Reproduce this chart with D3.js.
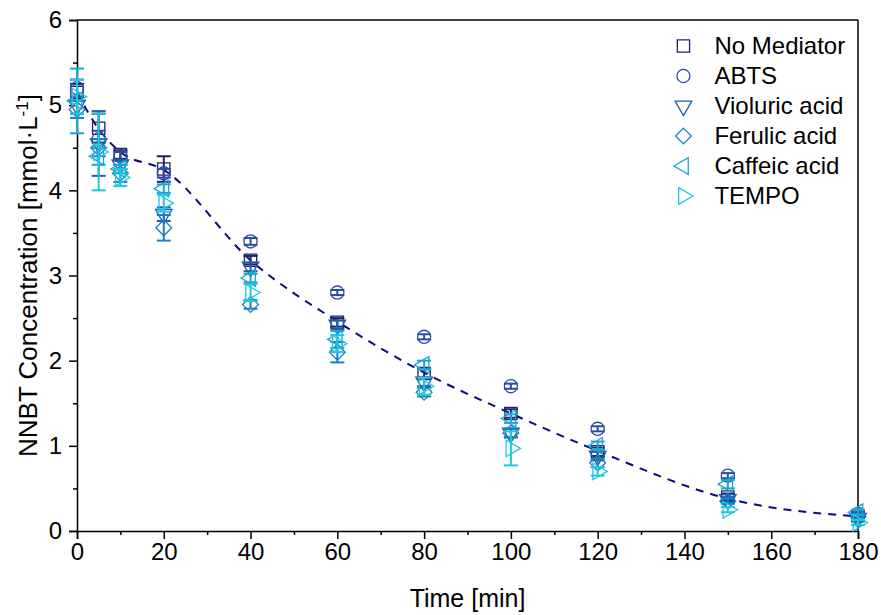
<!DOCTYPE html>
<html>
<head>
<meta charset="utf-8">
<script src="https://cdn.jsdelivr.net/npm/d3@7"></script>
<style>
  body { margin: 0; background: #fff; }
  text { font-family: "Liberation Sans", Arial, sans-serif; fill: #000; }
</style>
</head>
<body>
<div id="chart"></div>
<script>
// data
var times = [0, 5, 10, 20, 40, 60, 80, 100, 120, 150, 180]
var seriesNames = ['No Mediator', 'ABTS', 'Violuric acid', 'Ferulic acid', 'Caffeic acid', 'TEMPO']

var noMediator    = [5.15, 4.73, 4.42, 4.25, 3.18, 2.45, 1.85, 1.38, 0.93, 0.40, 0.18]
var noMediatorErr = [0.10, 0.17, 0.05, 0.15, 0.05, 0.05, 0.05, 0.05, 0.05, 0.04, 0.03]
var abts          = [5.20, 4.60, 4.40, 4.20, 3.40, 2.80, 2.28, 1.70, 1.20, 0.65, 0.20]
var abtsErr       = [0.10, 0.10, 0.05, 0.05, 0.04, 0.03, 0.03, 0.03, 0.03, 0.03, 0.03]
var violuric      = [5.00, 4.55, 4.30, 3.72, 3.10, 2.42, 1.75, 1.15, 0.88, 0.37, 0.15]
var violuricErr   = [0.10, 0.38, 0.05, 0.08, 0.05, 0.05, 0.05, 0.05, 0.05, 0.03, 0.03]
var ferulic       = [4.95, 4.50, 4.20, 3.56, 2.66, 2.10, 1.63, 1.15, 0.80, 0.35, 0.17]
var ferulicErr    = [0.10, 0.10, 0.10, 0.15, 0.05, 0.12, 0.05, 0.05, 0.05, 0.03, 0.03]
var caffeic       = [5.05, 4.40, 4.25, 4.02, 2.97, 2.25, 1.95, 1.32, 1.00, 0.55, 0.22]
var caffeicErr    = [0.38, 0.10, 0.05, 0.05, 0.05, 0.10, 0.05, 0.05, 0.05, 0.05, 0.03]
var tempo         = [5.10, 4.45, 4.15, 3.85, 2.80, 2.20, 1.70, 0.97, 0.70, 0.25, 0.10]
var tempoErr      = [0.20, 0.45, 0.10, 0.10, 0.10, 0.10, 0.10, 0.20, 0.05, 0.03, 0.03]

// fitted trend (dashed)
var fitTimes  = [0, 5, 10, 20, 40, 60, 80, 100, 120, 150, 180]
var fitValues = [5.15, 4.72, 4.45, 4.24, 3.18, 2.46, 1.86, 1.38, 0.94, 0.38, 0.17]

var xTicks = [0, 20, 40, 60, 80, 100, 120, 140, 160, 180]
var yTicks = [0, 1, 2, 3, 4, 5, 6]

var values = [noMediator, abts, violuric, ferulic, caffeic, tempo]
var errors = [noMediatorErr, abtsErr, violuricErr, ferulicErr, caffeicErr, tempoErr]

// styles
var colors = ['#20206e', '#2c4ca4', '#1f5ea9', '#1b7ebf', '#1aa6d4', '#22c6e2']
var symbols = [
  {type: d3.symbolSquare, size: 150, rot: 0},
  {type: d3.symbolCircle, size: 135, rot: 0},
  {type: d3.symbolTriangle, size: 120, rot: 180},
  {type: d3.symbolSquare, size: 125, rot: 45},
  {type: d3.symbolTriangle, size: 120, rot: -90},
  {type: d3.symbolTriangle, size: 120, rot: 90}
]

var W = 881, H = 615
var margin = {top: 20, right: 23, bottom: 84, left: 77}
var width = W - margin.left - margin.right
var height = H - margin.top - margin.bottom

var svg = d3.select('#chart').append('svg')
    .attr('width', W)
    .attr('height', H)
  .append('g')
    .attr('transform', 'translate(' + margin.left + ',' + margin.top + ')')

var x = d3.scaleLinear().domain([0, 180]).range([0, width])
var y = d3.scaleLinear().domain([0, 6]).range([height, 0])

// Axes
var xAxis = d3.axisBottom(x).tickValues(xTicks).tickSize(8).tickPadding(4).tickFormat(d3.format('d'))
var yAxis = d3.axisLeft(y).tickValues(yTicks).tickSize(8).tickPadding(7).tickFormat(d3.format('d'))

var gx = svg.append('g').attr('transform', 'translate(0,' + height + ')').call(xAxis)
var gy = svg.append('g').call(yAxis)

// minor ticks
svg.append('g').attr('transform', 'translate(0,' + height + ')')
  .call(d3.axisBottom(x).tickValues(d3.range(10, 180, 20)).tickSize(4).tickFormat(''))
  .call(function(g){ g.select('.domain').remove() })
svg.append('g')
  .call(d3.axisLeft(y).tickValues(d3.range(0.5, 6, 1)).tickSize(4).tickFormat(''))
  .call(function(g){ g.select('.domain').remove() })

svg.selectAll('.tick line').style('stroke', '#000').style('stroke-width', 1.5)
svg.selectAll('.domain').style('stroke', '#000').style('stroke-width', 1.5)
gx.selectAll('text').attr('font-size', null).style('font-size', '24px')
gy.selectAll('text').attr('font-size', null).style('font-size', '24px')
gx.attr('font-size', null).attr('font-family', null)
gy.attr('font-size', null).attr('font-family', null)

// frame top and right
svg.append('line').attr('x1', 0).attr('x2', width).attr('y1', 0).attr('y2', 0)
  .style('stroke', '#000').style('stroke-width', 1.5)
svg.append('line').attr('x1', width).attr('x2', width).attr('y1', 0).attr('y2', height)
  .style('stroke', '#000').style('stroke-width', 1.5)

// axis titles
svg.append('text')
  .attr('x', width / 2)
  .attr('y', height + 76)
  .attr('text-anchor', 'middle')
  .style('font-size', '25px')
  .text('Time [min]')

var yTitle = svg.append('text')
  .attr('transform', 'translate(' + (-40) + ',' + (height / 2) + ') rotate(-90)')
  .attr('text-anchor', 'middle')
  .style('font-size', '26px')
yTitle.append('tspan').text('NNBT Concentration [mmol\u00b7L')
yTitle.append('tspan').attr('dy', -9).style('font-size', '17px').text('-1')
yTitle.append('tspan').attr('dy', 9).text(']')

// dashed trend line
var fitData = fitTimes.map(function(t, i){ return {t: t, v: fitValues[i]} })
svg.append('path')
  .datum(fitData)
  .attr('d', d3.line()
    .x(function(d){ return x(d.t) })
    .y(function(d){ return y(d.v) })
    .curve(d3.curveMonotoneX))
  .style('fill', 'none')
  .style('stroke', '#0b0b7a')
  .style('stroke-width', 2)
  .style('stroke-dasharray', '8,7')

// series
var symbolPath = function(s){ return d3.symbol().type(s.type).size(s.size)() }

values.forEach(function(vals, si){
  var pts = times.map(function(t, i){ return {t: t, v: vals[i], e: errors[si][i]} })
  var g = svg.append('g')
    .style('stroke', colors[si])
    .style('fill', 'none')
    .style('stroke-width', 1.3)

  // error bars
  var eb = g.selectAll('g.err').data(pts).enter().append('g')
  eb.append('line')
    .attr('x1', function(d){ return x(d.t) })
    .attr('x2', function(d){ return x(d.t) })
    .attr('y1', function(d){ return y(d.v + d.e) })
    .attr('y2', function(d){ return y(d.v - d.e) })
    .style('stroke-width', 2)
  eb.append('line')
    .attr('x1', function(d){ return x(d.t) - 7 })
    .attr('x2', function(d){ return x(d.t) + 7 })
    .attr('y1', function(d){ return y(d.v + d.e) })
    .attr('y2', function(d){ return y(d.v + d.e) })
    .style('stroke-width', 2)
  eb.append('line')
    .attr('x1', function(d){ return x(d.t) - 7 })
    .attr('x2', function(d){ return x(d.t) + 7 })
    .attr('y1', function(d){ return y(d.v - d.e) })
    .attr('y2', function(d){ return y(d.v - d.e) })
    .style('stroke-width', 2)

  // markers
  g.selectAll('path.mark').data(pts).enter().append('path')
    .attr('class', 'mark')
    .attr('d', symbolPath(symbols[si]))
    .attr('transform', function(d){
      return 'translate(' + x(d.t) + ',' + y(d.v) + ') rotate(' + symbols[si].rot + ')'
    })
})

// legend
var legend = svg.append('g').attr('transform', 'translate(' + x(140) + ',0)')
seriesNames.forEach(function(name, i){
  var row = legend.append('g').attr('transform', 'translate(0,' + (26 + i * 30) + ')')
  row.append('path')
    .attr('d', symbolPath(symbols[i]))
    .attr('transform', 'translate(' + (-1) + ',0) rotate(' + symbols[i].rot + ')')
    .style('fill', 'none')
    .style('stroke', colors[i])
    .style('stroke-width', 1.3)
  row.append('text')
    .attr('x', 30)
    .attr('y', 8)
    .style('font-size', '24px')
    .text(name)
})
</script>
</body>
</html>
